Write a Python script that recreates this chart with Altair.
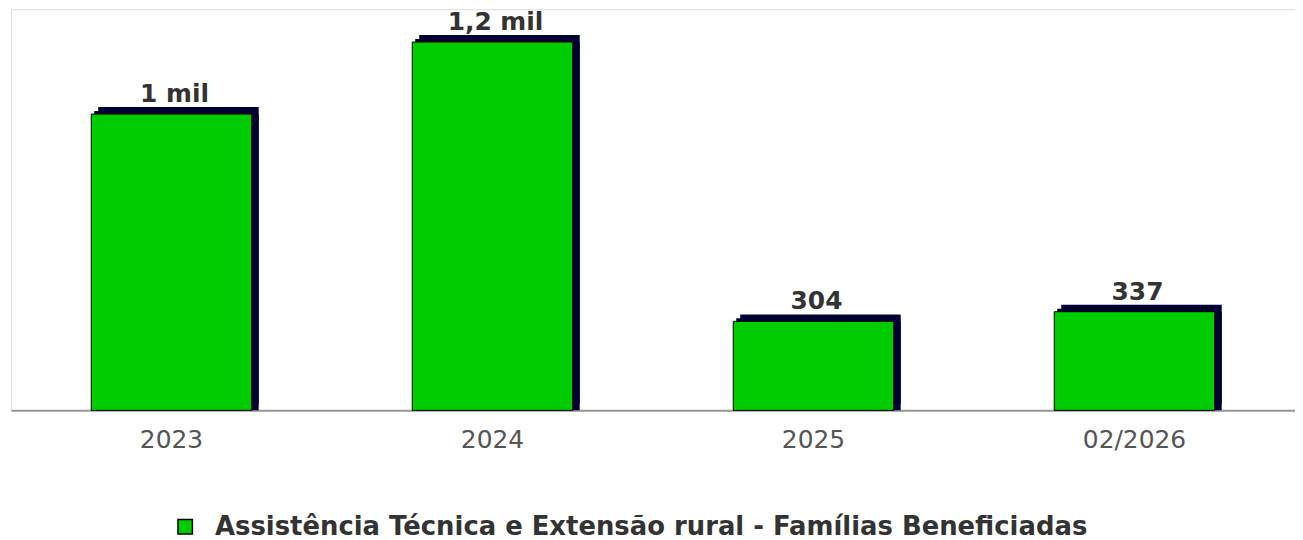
import altair as alt
import pandas as pd

categories = ["2023", "2024", "2025", "02/2026"]
values = [1012, 1258, 304, 337]
labels = ["1 mil", "1,2 mil", "304", "337"]
series = "Assistência Técnica e Extensão rural - Famílias Beneficiadas"

df = pd.DataFrame({"cat": categories, "val": values, "lab": labels, "serie": [series] * 4})

x = alt.X("cat:N", sort=categories, title=None,
          scale=alt.Scale(paddingInner=0.5, paddingOuter=0.25),
          axis=alt.Axis(labelAngle=0, labelFont="DejaVu Sans", labelFontSize=25,
                        labelColor="#555555", labelPadding=17, ticks=False,
                        domainColor="#999999", domainWidth=2, grid=False))
y = alt.Y("val:Q", title=None, scale=alt.Scale(domain=[0, 1370], nice=False), axis=None)

base = alt.Chart(df)

shadow0 = base.mark_bar(color="#000033", xOffset=7).encode(x=x, y=y)
shadow1 = base.mark_bar(color="#000033", xOffset=3, yOffset=-3).encode(x=x, y=y)
shadow2 = base.mark_bar(color="#000033", xOffset=7, yOffset=-7).encode(x=x, y=y)
front = base.mark_bar(stroke="#000000", strokeWidth=1).encode(
    x=x, y=y,
    color=alt.Color("serie:N", scale=alt.Scale(range=["#00cc00"]),
                    legend=alt.Legend(title=None, orient="none", legendX=162, legendY=507,
                                      symbolType="square",
                                      symbolSize=210, symbolStrokeColor="#000000",
                                      symbolStrokeWidth=1.5, symbolFillColor="#00cc00",
                                      labelFont="DejaVu Sans", labelFontSize=26,
                                      labelFontWeight="bold", labelColor="#333333",
                                      labelLimit=1200, symbolOffset=0,
                                      labelOffset=17)))
text = base.mark_text(font="DejaVu Sans", fontSize=25, fontWeight="bold", color="#333333",
                      baseline="alphabetic", dy=-12, dx=3).encode(x=x, y=y, text="lab:N")

chart = alt.layer(shadow0, shadow1, shadow2, front, text).properties(
    width=1290, height=403, padding={"left": 3, "top": 0, "right": 0, "bottom": 0}
).configure_view(stroke="transparent", strokeWidth=0).configure(background="white")

chart.save("out.html", embed_options={"renderer": "svg", "actions": False})
